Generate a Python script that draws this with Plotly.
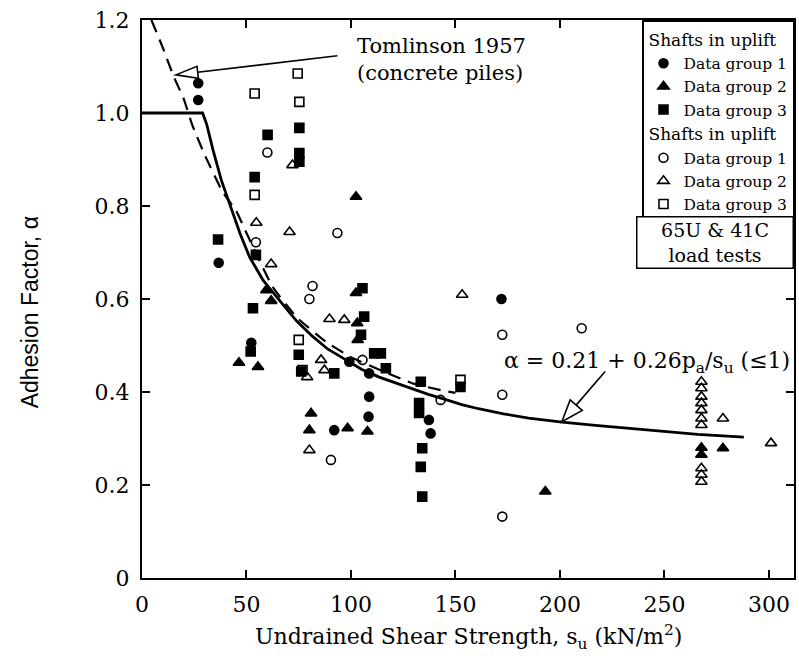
import math
import plotly.graph_objects as go

# ---------------- data ----------------
# Shafts in uplift (filled symbols)
g1_filled_su = [26.9, 26.9, 36.7, 52.3, 99.2, 108.7, 108.7, 108.4, 92.0, 137.3, 138.1, 172.0]
g1_filled_a = [1.064, 1.028, 0.678, 0.506, 0.465, 0.440, 0.390, 0.347, 0.318, 0.340, 0.311, 0.600]

g2_filled_su = [102.4, 59.5, 61.8, 46.4, 55.5, 80.9, 80.1, 98.4, 107.9, 102.4, 103.0, 103.2,
                193.0, 267.7, 267.7, 278.0]
g2_filled_a = [0.820, 0.619, 0.596, 0.463, 0.454, 0.354, 0.318, 0.322, 0.315, 0.613, 0.548, 0.512,
               0.186, 0.280, 0.265, 0.279]

g3_filled_su = [75.3, 60.1, 75.3, 53.9, 75.3, 36.4, 54.5, 53.1, 52.0, 75.0, 76.2, 92.0,
                105.5, 106.3, 104.8, 111.1, 114.3, 116.7, 133.4, 152.4, 132.6, 132.6,
                134.1, 133.4, 134.1]
g3_filled_a = [0.968, 0.953, 0.914, 0.862, 0.895, 0.728, 0.695, 0.580, 0.487, 0.480, 0.444, 0.440,
               0.623, 0.562, 0.523, 0.483, 0.483, 0.451, 0.422, 0.411, 0.376, 0.355,
               0.279, 0.239, 0.175]

# Second set (open symbols)
g1_open_su = [60.0, 54.5, 93.5, 81.6, 80.1, 105.5, 142.9, 172.4, 172.4, 172.4, 90.4, 210.4]
g1_open_a = [0.915, 0.722, 0.742, 0.628, 0.600, 0.469, 0.383, 0.523, 0.394, 0.132, 0.254, 0.537]

g2_open_su = [72.0, 54.7, 70.6, 61.8, 89.7, 96.8, 85.7, 87.3, 79.0, 80.1, 153.2,
              267.7, 267.7, 267.7, 267.7, 267.7, 267.7, 267.7, 267.7, 267.7, 267.7,
              278.0, 301.0]
g2_open_a = [0.888, 0.764, 0.744, 0.675, 0.557, 0.555, 0.469, 0.447, 0.432, 0.275, 0.609,
             0.422, 0.408, 0.390, 0.376, 0.361, 0.343, 0.329, 0.236, 0.222, 0.207,
             0.343, 0.290]

g3_open_su = [74.5, 53.9, 75.3, 53.9, 75.0, 76.8, 152.4]
g3_open_a = [1.085, 1.042, 1.024, 0.824, 0.512, 0.447, 0.426]

# Design curve  alpha = 0.21 + 0.26 pa/su (<=1)
design_su = [0, 29, 31, 34, 38, 43, 47, 51.5, 58, 65.8, 73.9, 81.5, 89, 97.6, 105, 113.5, 121,
             129, 137, 145, 153, 161, 173, 185, 201, 217, 234, 250, 266, 288]
design_a = [1.0, 1.0, 0.975, 0.92, 0.855, 0.79, 0.74, 0.69, 0.64, 0.597, 0.553, 0.52, 0.492,
            0.469, 0.449, 0.432, 0.42, 0.408, 0.395, 0.384, 0.373, 0.364, 0.353, 0.344, 0.335,
            0.328, 0.321, 0.315, 0.309, 0.303]

# Tomlinson (1957) curve, concrete piles
tom_su = [4.5, 10, 15, 20, 24, 30, 38.6, 45, 50, 62.5, 74, 88, 100, 115, 130, 142, 150]
tom_a = [1.2, 1.14, 1.08, 1.03, 0.975, 0.91, 0.83, 0.79, 0.742, 0.626, 0.561, 0.508, 0.475,
         0.445, 0.418, 0.405, 0.398]

x_ticks = [0, 50, 100, 150, 200, 250, 300]
x_tick_text = ["0", "50", "100", "150", "200", "250", "300"]
y_ticks = [0, 0.2, 0.4, 0.6, 0.8, 1.0, 1.2]
y_tick_text = ["0", "0.2", "0.4", "0.6", "0.8", "1.0", "1.2"]

# ---------------- layout constants ----------------
W, H = 799, 658
ML, MR, MT, MB = 142, 3, 20, 80
XR = [0, 312]
YR = [0, 1.2]
kx = (W - ML - MR) / (XR[1] - XR[0])
ky = (H - MT - MB) / (YR[1] - YR[0])

SERIF = "DejaVu Serif"
SANS = "Liberation Sans"

fig = go.Figure()

fig.add_trace(go.Scatter(x=design_su, y=design_a, mode="lines", line=dict(color="black", width=2.8),
                         showlegend=False, hoverinfo="skip"))
fig.add_trace(go.Scatter(x=tom_su, y=tom_a, mode="lines",
                         line=dict(color="black", width=2.2, dash="13px,8px", shape="spline", smoothing=0.4),
                         showlegend=False, hoverinfo="skip"))

def add_pts(xs, ys, symbol, name, group, size):
    fig.add_trace(go.Scatter(
        x=xs, y=ys, mode="markers", name=name, legendgroup=group,
        legendgrouptitle=dict(text="Shafts in uplift", font=dict(family=SERIF, size=17, color="black")),
        marker=dict(symbol=symbol, size=size, color="black", line=dict(color="black", width=1.6)),
    ))

add_pts(g1_filled_su, g1_filled_a, "circle", "Data group 1", "a", 9)
add_pts(g2_filled_su, g2_filled_a, "triangle-up", "Data group 2", "a", 10)
add_pts(g3_filled_su, g3_filled_a, "square", "Data group 3", "a", 9)
add_pts(g1_open_su, g1_open_a, "circle-open", "Data group 1", "b", 9)
add_pts(g2_open_su, g2_open_a, "triangle-up-open", "Data group 2", "b", 10)
add_pts(g3_open_su, g3_open_a, "square-open", "Data group 3", "b", 9)

shapes = []
def open_arrow(tip, tail, length=22, half=7):
    dx = (tail[0] - tip[0]) * kx
    dy = (tail[1] - tip[1]) * ky
    n = math.hypot(dx, dy)
    ux, uy = dx / n, dy / n
    pxv, pyv = -uy, ux
    bx, by = ux * length, uy * length
    p1 = (bx + pxv * half, by + pyv * half)
    p2 = (bx - pxv * half, by - pyv * half)
    path = f"M0,0 L{p1[0]:.2f},{p1[1]:.2f} L{p2[0]:.2f},{p2[1]:.2f} Z"
    base = (tip[0] + bx / kx, tip[1] + by / ky)
    shapes.append(dict(type="line", xref="x", yref="y", x0=base[0], y0=base[1], x1=tail[0], y1=tail[1],
                       line=dict(color="black", width=1.6)))
    shapes.append(dict(type="path", xref="x", yref="y", xsizemode="pixel", ysizemode="pixel",
                       xanchor=tip[0], yanchor=tip[1], path=path,
                       line=dict(color="black", width=1.6), fillcolor="white"))

tom_tip, tom_tail = (16.2, 1.082), (93.5, 1.123)
eq_tip, eq_tail = (200.9, 0.336), (221.6, 0.444)
open_arrow(tom_tip, tom_tail, 22, 6)
open_arrow(eq_tip, eq_tail, 22, 8)

PW, PH = W - ML - MR, H - MT - MB

annotations = [
    dict(text="Tomlinson 1957<br>(concrete piles)", xref="paper", yref="paper",
         x=(356 - ML) / PW, y=(578 - 59) / PH, xanchor="left", yanchor="middle",
         align="left", showarrow=False, font=dict(family=SERIF, size=21, color="black")),
    dict(text="α = 0.21 + 0.26p<sub>a</sub>/s<sub>u</sub> (≤1)", xref="paper", yref="paper",
         x=(503 - ML) / PW, y=(578 - 362) / PH, xanchor="left", yanchor="middle",
         showarrow=False, font=dict(family=SERIF, size=22, color="black")),
    dict(text="65U &amp; 41C<br>load tests", xref="paper", yref="paper",
         x=1, y=(578 - 216) / PH, xanchor="right", yanchor="top",
         showarrow=False, align="center", width=153, height=48,
         bordercolor="black", borderwidth=1.5, borderpad=1, bgcolor="white",
         font=dict(family=SERIF, size=19, color="black")),
    dict(text="Undrained Shear Strength, s<sub>u</sub> (kN/m<sup>2</sup>)", xref="paper", yref="paper",
         x=0.5, y=(578 - 637) / PH, xanchor="center", yanchor="middle",
         showarrow=False, font=dict(family=SERIF, size=22, color="black")),
    dict(text="Adhesion Factor, α", xref="paper", yref="paper", textangle=-90,
         x=(30 - ML) / PW, y=(578 - 312) / PH, xanchor="center", yanchor="middle",
         showarrow=False, font=dict(family=SANS, size=23, color="black")),
]

axis_common = dict(showline=True, linecolor="black", linewidth=2, mirror="ticks", ticks="inside",
                   ticklen=8, tickwidth=1.5, tickcolor="black", showgrid=False, zeroline=False,
                   tickfont=dict(family=SERIF, size=22, color="black"))

fig.update_layout(
    width=W, height=H,
    margin=dict(l=ML, r=MR, t=MT, b=MB),
    paper_bgcolor="white", plot_bgcolor="white",
    xaxis=dict(range=XR, tickvals=x_ticks, ticktext=x_tick_text, ticklabelstandoff=6, **axis_common),
    yaxis=dict(range=YR, tickvals=y_ticks, ticktext=y_tick_text, ticklabelstandoff=6, **axis_common),
    legend=dict(x=1, y=1, xanchor="right", yanchor="top", bgcolor="white", bordercolor="black",
                borderwidth=1.5, font=dict(family=SERIF, size=15.5, color="black"),
                tracegroupgap=0, traceorder="grouped", itemwidth=30),
    shapes=shapes,
    annotations=annotations,
)

fig.write_html("out.html")
